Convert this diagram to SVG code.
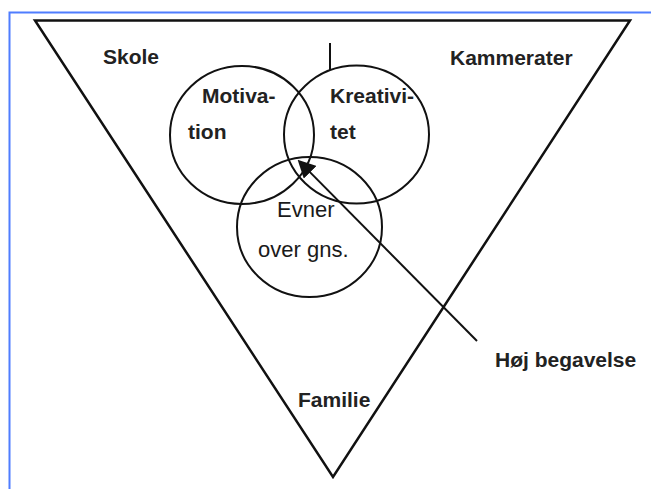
<svg xmlns="http://www.w3.org/2000/svg" width="651" height="489" viewBox="0 0 651 489">
  <style>
    .frame { fill: none; stroke: #4f7dff; stroke-width: 2; }
    .shape { fill: none; stroke: #111; stroke-width: 2; }
    .tri { fill: none; stroke: #111; stroke-width: 2.5; stroke-linejoin: miter; }
    .conn { fill: none; stroke: #111; stroke-width: 2; }
    .lbl { font-family: "Liberation Sans", Arial, sans-serif; font-size: 21px; font-weight: bold; fill: #222; }
    .lbl.plain { font-size: 22px; font-weight: normal; fill: #1a1a1a; }
  </style>
  <defs>
    <marker id="arrowhead" markerUnits="userSpaceOnUse" markerWidth="18" markerHeight="18"
            viewBox="0 0 17 17.2" refX="7" refY="8.6" orient="auto">
      <path d="M0,0 L17,8.6 L0,17.2 z" fill="#111"/>
    </marker>
  </defs>

  <rect width="651" height="489" fill="#fff"/>

  <!-- page frame -->
  <path class="frame" d="M9.5,489 V12.5 H651"/>

  <!-- surrounding environment (inverted triangle) -->
  <g id="environment">
    <polygon class="tri" points="35,20.5 630,20.5 333,477"/>
    <text class="lbl" x="103" y="64">Skole</text>
    <text class="lbl" x="450" y="64.5">Kammerater</text>
    <text class="lbl" x="298" y="407">Familie</text>
  </g>

  <g id="motivation">
    <ellipse class="shape" cx="242" cy="135" rx="72" ry="69"/>
    <text class="lbl" x="202" y="103">Motiva-</text>
    <text class="lbl" x="188" y="139">tion</text>
  </g>

  <g id="kreativitet">
    <ellipse class="shape" cx="356.5" cy="134.5" rx="72.5" ry="69"/>
    <text class="lbl" x="330" y="103">Kreativi-</text>
    <text class="lbl" x="330" y="139">tet</text>
  </g>

  <g id="evner">
    <ellipse class="shape" cx="309.5" cy="227" rx="72.5" ry="70"/>
    <text class="lbl plain" x="277" y="217">Evner</text>
    <text class="lbl plain" x="258" y="257">over gns.</text>
  </g>

  <g id="hoej-begavelse">
    <text class="lbl" x="495" y="367">Høj begavelse</text>
  </g>

  <g id="connectors">
    <line class="conn" x1="330" y1="43" x2="330" y2="70"/>
    <line class="conn" x1="477" y1="341" x2="305" y2="167.1" marker-end="url(#arrowhead)"/>
  </g>
</svg>
